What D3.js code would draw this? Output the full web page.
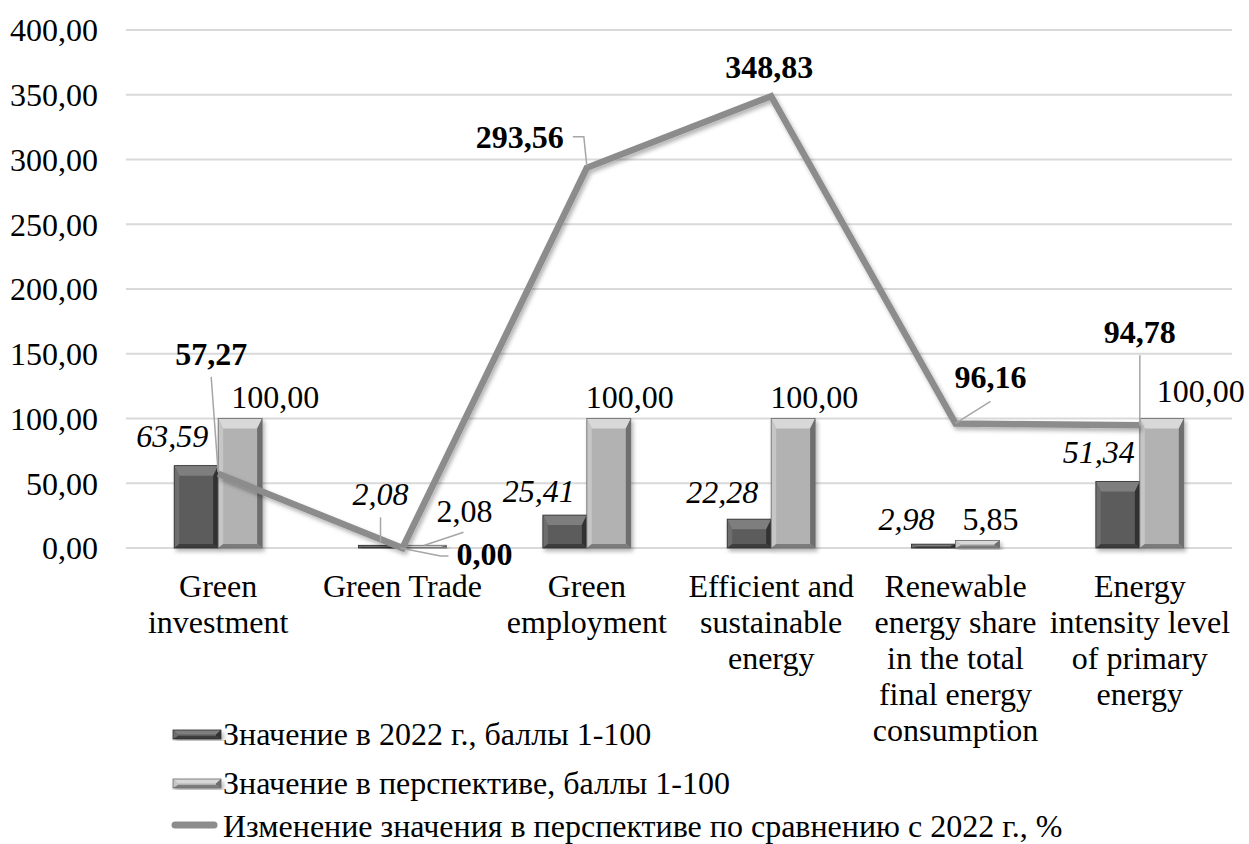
<!DOCTYPE html>
<html><head><meta charset="utf-8">
<script src="https://cdn.jsdelivr.net/npm/d3@7"></script>
<style>
html,body{margin:0;padding:0;background:#fff;}
</style></head>
<body><svg id="chart" width="1249" height="844" style="font-family:'Liberation Serif','Times New Roman',Times,serif"></svg>
<script>
// ---------- data ----------
const categories = [
  ["Green","investment"],
  ["Green Trade"],
  ["Green","employment"],
  ["Efficient and","sustainable","energy"],
  ["Renewable","energy share","in the total","final energy","consumption"],
  ["Energy","intensity level","of primary","energy"]
];
const values2022   = [63.59, 2.08, 25.41, 22.28, 2.98, 51.34];
const valuesTarget = [100.00, 2.08, 100.00, 100.00, 5.85, 100.00];
const changePct    = [57.27, 0.00, 293.56, 348.83, 96.16, 94.78];
const yTicks = [0, 50, 100, 150, 200, 250, 300, 350, 400];
const seriesNames = [
  "Значение в 2022 г., баллы 1-100",
  "Значение в перспективе, баллы 1-100",
  "Изменение значения в перспективе по сравнению с 2022 г., %"
];

// ---------- layout (label nudges, not data) ----------
const darkNudge  = [[-24,-19],[0,-40],[-26,-13],[-27,-16],[-27,-14],[-19,-19]];
const lightNudge = [[35,-11],[40,-23],[21,-11],[21,-11],[13,-10],[39,-17]];
const lineNudge  = [[-7,-109],[82,17],[-67,-20],[-2,-18],[35,-35],[0,-82]];
const darkLeader  = [null, [[0,-2],[0,-28]], null, null, null, null];
const lightLeader = [null, [[0,0],[39,-13]], null, null, null, null];
const lineLeader  = [[[0,-2],[-7,-97]], [[-2,0],[38,8],[46,8]], [[0,-2],[-3,-31],[-14,-31]], null, [[0,0],[35,-22]], [[0,0],[0,-70]]];

const fmt = v => d3.format(".2f")(v).replace(".", ",");
const FS = 32;
const FONT = "'Liberation Serif','Times New Roman',Times,serif";

const svg = d3.select("#chart");
const defs = svg.append("defs");
const shadow = defs.append("filter").attr("id","shadow").attr("x","-20%").attr("y","-20%").attr("width","140%").attr("height","140%");
shadow.append("feDropShadow").attr("dx",2).attr("dy",3).attr("stdDeviation",2).attr("flood-color","#000").attr("flood-opacity",0.3);

const x = d3.scaleBand().domain(d3.range(categories.length)).range([126,1232]).paddingInner(0.523).paddingOuter(0.2615);
const xs = d3.scaleBand().domain([0,1]).range([0, x.bandwidth()]);
const y = d3.scaleLinear().domain([0,400]).range([548,30]);

function styleText(sel){
  return sel.style("font-family",FONT).style("font-size",FS+"px").attr("fill","#000");
}

// gridlines
svg.append("g").selectAll("line").data(yTicks).join("line")
  .attr("x1",126).attr("x2",1232).attr("y1",d=>y(d)).attr("y2",d=>y(d))
  .attr("stroke","#d9d9d9").attr("stroke-width",2);

// y axis
const yAxis = d3.axisLeft(y).tickValues(yTicks).tickFormat(fmt).tickSize(0).tickPadding(0);
const ya = svg.append("g").attr("transform","translate(98,0)").call(yAxis);
ya.attr("font-family",null).attr("font-size",null);
ya.select(".domain").remove();
styleText(ya.selectAll("text")).attr("dy","0.34em");

// category labels
const cat = styleText(svg.append("g").selectAll("text").data(categories).join("text"))
  .attr("text-anchor","middle")
  .attr("x",(d,i)=>x(i)+x.bandwidth()/2).attr("y",597);
cat.selectAll("tspan").data(d=>d).join("tspan")
  .attr("x",function(){return this.parentNode.getAttribute("x");})
  .attr("dy",(d,j)=>j===0?0:36).text(d=>d);

// bevel bar
const palettes = [
  {face:"#5c5c5c", top:"#7e7e7e", left:"#6e6e6e", right:"#333333", bottom:"#3c3c3c", stroke:"#2e2e2e"},
  {face:"#b2b2b2", top:"#d8d8d8", left:"#c6c6c6", right:"#6e6e6e", bottom:"#7c7c7c", stroke:"#6a6a6a"}
];
function bevelBar(g, x0, y0, w, h, p){
  const grp = g.append("g").attr("filter","url(#shadow)");
  grp.append("rect").attr("x",x0).attr("y",y0).attr("width",w).attr("height",Math.max(h,0.5)).attr("fill",p.face);
  const t = Math.min(10, h/2), s = Math.min(5, w/4), b = Math.min(4, h/3);
  const x1 = x0+w, y1 = y0+h;
  const poly = (pts, fill) => grp.append("polygon").attr("points", pts.map(q=>q.join(",")).join(" ")).attr("fill",fill);
  poly([[x0,y0],[x1,y0],[x1-s,y0+t],[x0+s,y0+t]], p.top);
  poly([[x0,y0],[x0+s,y0+t],[x0+s,y1-b],[x0,y1]], p.left);
  poly([[x1,y0],[x1,y1],[x1-s,y1-b],[x1-s,y0+t]], p.right);
  poly([[x0,y1],[x0+s,y1-b],[x1-s,y1-b],[x1,y1]], p.bottom);
  grp.append("rect").attr("x",x0).attr("y",y0).attr("width",w).attr("height",Math.max(h,0.5)).attr("fill","none").attr("stroke",p.stroke).attr("stroke-width",0.8);
}

const bars = svg.append("g");
[values2022, valuesTarget].forEach((vals, si) => {
  vals.forEach((v,i) => {
    const bx = x(i)+xs(si), by = y(v);
    bevelBar(bars, bx, by, xs.bandwidth(), y(0)-by, palettes[si]);
  });
});

// line
const lineGen = d3.line().x((d,i)=>x(i)+x.bandwidth()/2).y(d=>y(d));
svg.append("path").datum(changePct).attr("d",lineGen)
  .attr("fill","none").attr("stroke","#8c8c8c").attr("stroke-width",6.5)
  .attr("stroke-linejoin","miter").attr("filter","url(#shadow)");

// leaders & labels
const lab = svg.append("g");
function leader(px, py, pts){
  if(!pts) return;
  lab.append("polyline").attr("points", pts.map(q=>(px+q[0])+","+(py+q[1])).join(" "))
    .attr("fill","none").attr("stroke","#a6a6a6").attr("stroke-width",1.5);
}
values2022.forEach((v,i)=>{
  const cx = x(i)+xs(0)+xs.bandwidth()/2, ty = y(v);
  leader(cx, ty, darkLeader[i]);
  styleText(lab.append("text")).attr("x",cx+darkNudge[i][0]).attr("y",ty+darkNudge[i][1])
    .attr("text-anchor","middle").style("font-style","italic").text(fmt(v));
});
valuesTarget.forEach((v,i)=>{
  const cx = x(i)+xs(1)+xs.bandwidth()/2, ty = y(v);
  leader(cx, ty, lightLeader[i]);
  styleText(lab.append("text")).attr("x",cx+lightNudge[i][0]).attr("y",ty+lightNudge[i][1])
    .attr("text-anchor","middle").text(fmt(v));
});
changePct.forEach((v,i)=>{
  const cx = x(i)+x.bandwidth()/2, ty = y(v);
  leader(cx, ty, lineLeader[i]);
  styleText(lab.append("text")).attr("x",cx+lineNudge[i][0]).attr("y",ty+lineNudge[i][1])
    .attr("text-anchor","middle").style("font-weight","bold").text(fmt(v));
});

// legend
const leg = svg.append("g");
const legY = [745, 794, 837];
seriesNames.forEach((name,i)=>{
  const g = leg.append("g");
  if(i<2){
    bevelBar(g, 173, legY[i]-15, 48, 9, palettes[i]);
  } else {
    g.append("line").attr("x1",175).attr("x2",214).attr("y1",legY[i]-12).attr("y2",legY[i]-12)
      .attr("stroke","#8c8c8c").attr("stroke-width",7).attr("stroke-linecap","round");
  }
  styleText(g.append("text")).attr("x",223).attr("y",legY[i]).text(name);
});
</script></body></html>
